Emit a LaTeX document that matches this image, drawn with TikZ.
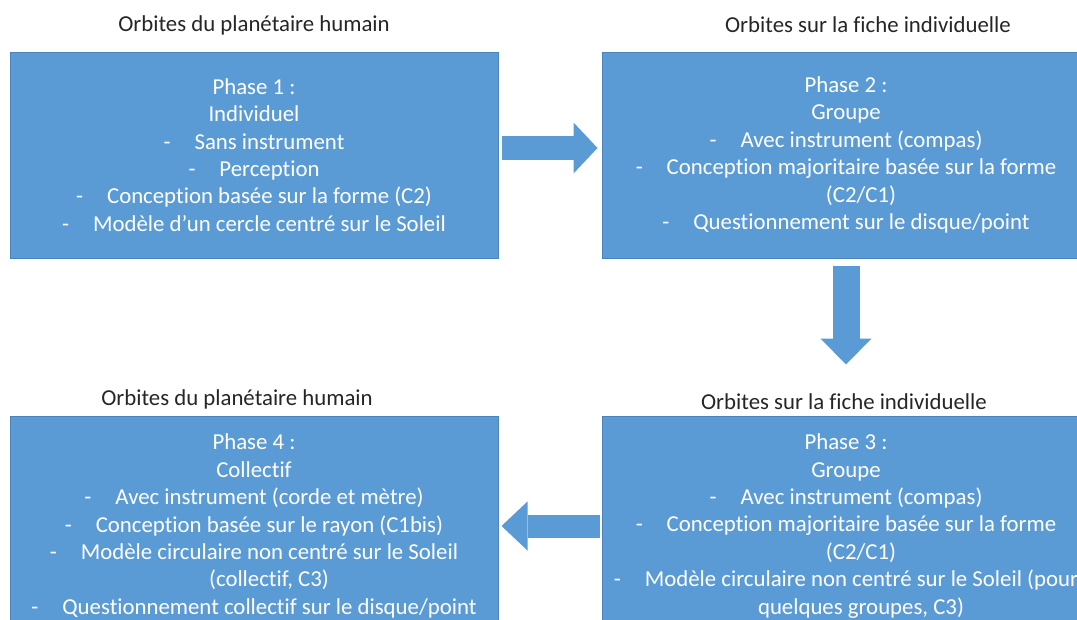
\documentclass[tikz,border=0pt]{standalone}
\usepackage{fontspec}
\setmainfont{Carlito}[Ligatures=NoCommon]
\usetikzlibrary{arrows.meta}
\definecolor{boxblue}{HTML}{5B9BD5}
\definecolor{boxedge}{HTML}{4A84BA}
\definecolor{titlegray}{HTML}{262626}
\newcommand{\bulletdash}{-\hspace{24pt}}
\newcommand{\contindent}{\hspace*{30pt}}
\tikzset{
  phasebox/.style={draw=boxedge, line width=1pt, fill=boxblue, text=white,
    minimum width=488pt, align=center, inner sep=0pt,
    font=\fontsize{22.8}{27.4}\selectfont},
  titletext/.style={text=titlegray, inner sep=0pt, font=\fontsize{22.8}{27.4}\selectfont},
  blockarrow/.style={draw=boxblue, line cap=butt}
}
\begin{document}
\begin{tikzpicture}[x=1pt,y=-1pt]
\useasboundingbox (0,0) rectangle (1077,619);
\fill[white] (0,0) rectangle (1077,619);

\node[titletext] (t1) at (254,25) {Orbites du planétaire humain};
\node[titletext] (t2) at (868,25) {Orbites sur la fiche individuelle};
\node[titletext] (t4) at (237,399) {Orbites du planétaire humain};
\node[titletext] (t3) at (844,402) {Orbites sur la fiche individuelle};

\node[phasebox, minimum height=206pt] (p1) at (254,155) {%
Phase 1 :\\
Individuel\\
\bulletdash Sans instrument\\
\bulletdash Perception\\
\bulletdash Conception basée sur la forme (C2)\\
\bulletdash Modèle d’un cercle centré sur le Soleil};

\node[phasebox, minimum height=206pt] (p2) at (846,155) {%
Phase 2 :\\
Groupe\\
\bulletdash Avec instrument (compas)\\
\bulletdash Conception majoritaire basée sur la forme\\
\contindent (C2/C1)\\
\bulletdash Questionnement sur le disque/point};

\node[phasebox, minimum height=220pt] (p3) at (846,526) {%
Phase 3 :\\
Groupe\\
\bulletdash Avec instrument (compas)\\
\bulletdash Conception majoritaire basée sur la forme\\
\contindent (C2/C1)\\
\bulletdash Modèle circulaire non centré sur le Soleil (pour\\
\contindent quelques groupes, C3)};

\node[phasebox, minimum height=220pt] (p4) at (254,526) {%
Phase 4 :\\
Collectif\\
\bulletdash Avec instrument (corde et mètre)\\
\bulletdash Conception basée sur le rayon (C1bis)\\
\bulletdash Modèle circulaire non centré sur le Soleil\\
\contindent (collectif, C3)\\
\bulletdash Questionnement collectif sur le disque/point};

\draw[blockarrow, line width=24pt,
  -{Triangle[length=24pt, width=51pt, line width=0pt]}]
  ([shift={(3pt,7pt)}]p1.east) -- ([shift={(-4pt,7pt)}]p2.west);
\draw[blockarrow, line width=27pt,
  -{Triangle[length=26pt, width=51pt, line width=0pt]}]
  ([yshift=-7pt]p2.south) -- ([yshift=51pt]p3.north);
\draw[blockarrow, line width=23pt,
  -{Triangle[length=26pt, width=49pt, line width=0pt]}]
  ([xshift=-2pt]p3.west) -- ([xshift=3pt]p4.east);
\end{tikzpicture}
\end{document}
